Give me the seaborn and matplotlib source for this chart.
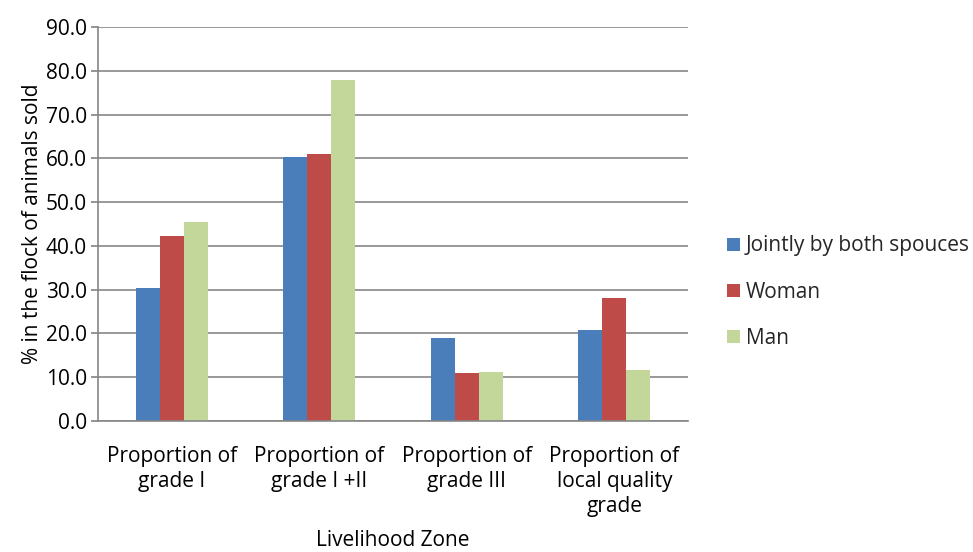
import matplotlib
matplotlib.use('Agg')
import matplotlib.pyplot as plt
import pandas as pd
import seaborn as sns
from matplotlib.patches import Patch

# ----------------------------------------------------------------------------------------------------------------------
# Data

categories = ['Proportion of\ngrade I', 'Proportion of\ngrade I +II', 'Proportion of\ngrade III',
              'Proportion of\nlocal quality\ngrade']
series = ['Jointly by both spouces', 'Woman', 'Man']
jointly = [30.3, 60.2, 18.9, 20.9]
woman = [42.3, 61.0, 11.0, 28.0]
man = [45.5, 77.9, 11.2, 11.6]
colors = ['#4A7EBB', '#BE4B48', '#C4D79B']

df = pd.DataFrame({
    'zone': categories * 3,
    'who': [s for s in series for _ in categories],
    'value': jointly + woman + man,
})

# ----------------------------------------------------------------------------------------------------------------------
# Plot
sns.set_theme(style='white')
plt.rcParams['font.family'] = ['Open Sans', 'DejaVu Sans']
fs = 15

fig = plt.figure(figsize=(9.73, 5.52), dpi=100)
ax = fig.add_axes([98 / 973, 131 / 552, 590 / 973, 394 / 552])

sns.barplot(data=df, x='zone', y='value', hue='who', palette=colors, width=0.49, gap=0,
            saturation=1, ax=ax, legend=False, linewidth=0)

ax.set_ylim(0, 90)
ax.set_yticks(range(0, 91, 10))
ax.set_yticklabels([f'{v:.1f}' for v in range(0, 91, 10)], fontsize=fs, color='black')
ax.set_xlim(-0.5, 3.5)
ax.tick_params(axis='x', length=0, labelsize=fs, labelcolor='black', pad=18)
for lbl in ax.get_xticklabels():
    lbl.set_linespacing(1.25)
ax.tick_params(axis='y', length=5, color='#868686', direction='out', left=True, pad=3)
ax.yaxis.grid(True, color='#868686', linewidth=1.2)
ax.set_axisbelow(True)

for side in ['top', 'right']:
    ax.spines[side].set_visible(False)
for side in ['left', 'bottom']:
    ax.spines[side].set_color('#868686')
    ax.spines[side].set_linewidth(1.2)

ax.set_xlabel('Livelihood Zone', fontsize=fs, color='black', labelpad=9)
ax.set_ylabel('% in the flock of animals sold', fontsize=fs, color='black', labelpad=2)

handles = [Patch(facecolor=c, edgecolor='none') for c in colors]
fig.legend(handles, series, loc='center left', bbox_to_anchor=(727 / 973, 1 - 292 / 552), frameon=False,
           fontsize=fs, handlelength=0.6, handleheight=0.6, handletextpad=0.3, labelspacing=1.2,
           borderaxespad=0, borderpad=0)

fig.savefig('out.png', dpi=100)
